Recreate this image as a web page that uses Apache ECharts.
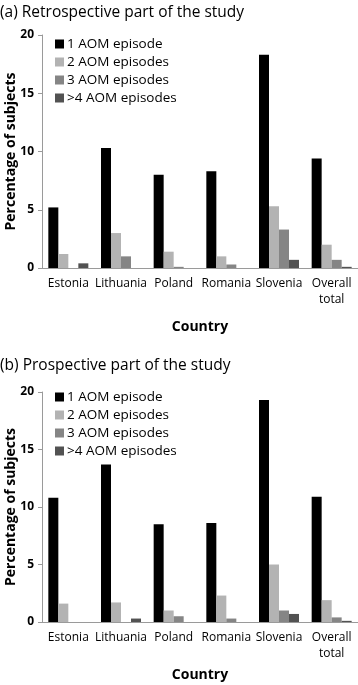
<!DOCTYPE html>
<html>
<head>
<meta charset="utf-8">
<title>AOM episodes</title>
<script src="https://cdn.jsdelivr.net/npm/echarts@6/dist/echarts.min.js"></script>
<style>
    html, body { margin: 0; padding: 0; background: #fff; }
    #chart { width: 358px; height: 685px; }
</style>
</head>
<body>
<div id="chart"></div>
<script>
// categories and legend names
var countries = ['Estonia', 'Lithuania', 'Poland', 'Romania', 'Slovenia', 'Overall\ntotal'];
var episodeNames = ['1 AOM episode', '2 AOM episodes', '3 AOM episodes', '>4 AOM episodes'];
var yTicks = [0, 5, 10, 15, 20];

// (a) retrospective part, % of subjects
var retro1 = [5.2, 10.3, 8.0, 8.3, 18.3, 9.4];
var retro2 = [1.2, 3.0, 1.4, 1.0, 5.3, 2.0];
var retro3 = [0, 1.0, 0.1, 0.3, 3.3, 0.7];
var retro4 = [0.4, 0, 0, 0, 0.7, 0.1];

// (b) prospective part, % of subjects
var prosp1 = [10.8, 13.7, 8.5, 8.6, 19.3, 10.9];
var prosp2 = [1.6, 1.7, 1.0, 2.3, 5.0, 1.9];
var prosp3 = [0, 0, 0.5, 0.3, 1.0, 0.4];
var prosp4 = [0, 0.3, 0, 0, 0.7, 0.1];

var colors = ['#000000', '#b3b3b3', '#858585', '#525252'];
var fontFam = '"Open Sans", Lato, sans-serif';

var myChart = echarts.init(document.getElementById('chart'));

function xAxisFor(idx) {
    return {
        type: 'category',
        gridIndex: idx,
        data: countries,
        name: 'Country',
        nameLocation: 'middle',
        nameGap: idx === 0 ? 52 : 46,
        nameTextStyle: { color: '#000', fontSize: 14, fontWeight: 'bold', fontFamily: fontFam },
        axisLine: { show: true, lineStyle: { color: '#9a9a9a', width: 1 } },
        axisTick: { show: false },
        axisLabel: {
            color: '#000',
            fontSize: 12,
            fontFamily: fontFam,
            interval: 0,
            margin: 8,
            lineHeight: 16
        },
        splitLine: { show: false }
    };
}

function yAxisFor(idx) {
    return {
        type: 'value',
        gridIndex: idx,
        min: yTicks[0],
        max: yTicks[yTicks.length - 1],
        interval: 5,
        name: 'Percentage of subjects',
        nameLocation: 'middle',
        nameMoveOverlap: false,
        nameGap: 24,
        nameTextStyle: { color: '#000', fontSize: 14, fontWeight: 'bold', fontFamily: fontFam },
        axisLine: { show: true, lineStyle: { color: '#9a9a9a', width: 1 } },
        axisTick: { show: true, length: 4, lineStyle: { color: '#9a9a9a' } },
        axisLabel: { color: '#000', fontSize: 12, fontWeight: 'bold', fontFamily: fontFam, margin: 8 },
        splitLine: { show: false }
    };
}

function barSeries(name, values, idx, color) {
    return {
        name: name,
        type: 'bar',
        xAxisIndex: idx,
        yAxisIndex: idx,
        data: values,
        barWidth: 10,
        barGap: '0%',
        itemStyle: { color: color },
        emphasis: { disabled: true }
    };
}

function legendFor(top) {
    return {
        data: episodeNames,
        orient: 'vertical',
        left: 50,
        top: top,
        itemWidth: 9,
        itemHeight: 9,
        itemGap: 4,
        icon: 'rect',
        textStyle: { color: '#000', fontSize: 13.5, fontFamily: fontFam, padding: [0, 0, 0, -2] }
    };
}

var option = {
    animation: false,
    color: colors,
    title: [
        {
            text: '(a) Retrospective part of the study',
            left: -5,
            top: 0,
            textStyle: { color: '#000', fontSize: 15.5, fontWeight: 'normal', fontFamily: fontFam }
        },
        {
            text: '(b) Prospective part of the study',
            left: -5,
            top: 353,
            textStyle: { color: '#000', fontSize: 15.5, fontWeight: 'normal', fontFamily: fontFam }
        }
    ],
    legend: [legendFor(32), legendFor(385)],
    // fixed plot boxes, labels may hang outside
    grid: [
        { left: 42, width: 316, top: 35, height: 233, containLabel: false, outerBoundsMode: 'none' },
        { left: 42, width: 316, top: 392, height: 230, containLabel: false, outerBoundsMode: 'none' }
    ],
    xAxis: [xAxisFor(0), xAxisFor(1)],
    yAxis: [yAxisFor(0), yAxisFor(1)],
    series: [
        barSeries(episodeNames[0], retro1, 0, colors[0]),
        barSeries(episodeNames[1], retro2, 0, colors[1]),
        barSeries(episodeNames[2], retro3, 0, colors[2]),
        barSeries(episodeNames[3], retro4, 0, colors[3]),
        barSeries(episodeNames[0], prosp1, 1, colors[0]),
        barSeries(episodeNames[1], prosp2, 1, colors[1]),
        barSeries(episodeNames[2], prosp3, 1, colors[2]),
        barSeries(episodeNames[3], prosp4, 1, colors[3])
    ]
};
myChart.setOption(option);
</script>
</body>
</html>
